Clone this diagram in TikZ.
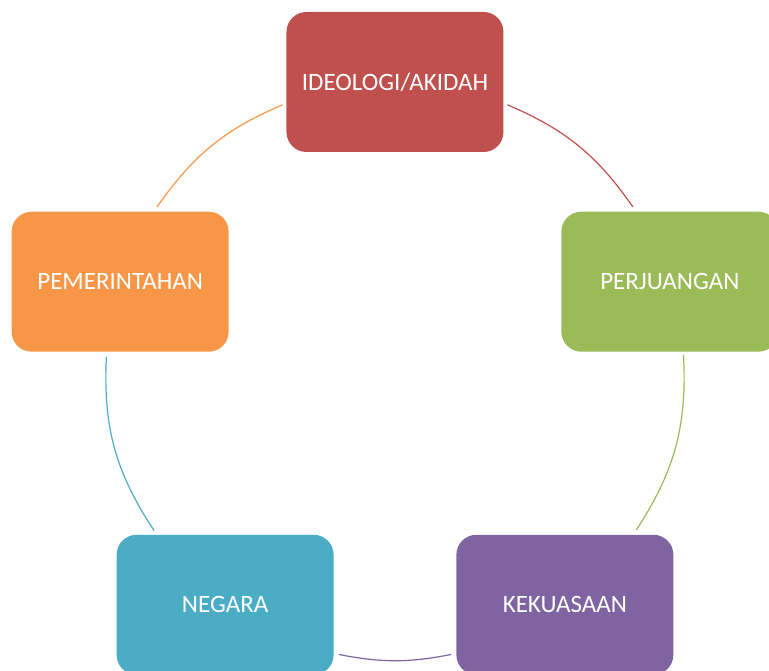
\documentclass[tikz,border=0pt]{standalone}
\usepackage{fontspec}
\setmainfont{Carlito}
\usetikzlibrary{positioning}
\definecolor{cycRed}{HTML}{C0504D}
\definecolor{cycGreen}{HTML}{9BBB59}
\definecolor{cycPurple}{HTML}{8064A2}
\definecolor{cycBlue}{HTML}{4BACC6}
\definecolor{cycOrange}{HTML}{F79646}
\tikzset{
  linkR/.style={cycRed, line width=1.2pt},
  linkG/.style={cycGreen, line width=1.2pt},
  linkP/.style={cycPurple, line width=1.2pt},
  linkB/.style={cycBlue, line width=1.2pt},
  linkO/.style={cycOrange, line width=1.2pt},
  boxRed/.style={rectangle, rounded corners=20pt, fill=cycRed, text=white,
                 align=center, minimum width=217pt, minimum height=140pt},
  boxGreen/.style={rectangle, rounded corners=20pt, fill=cycGreen, text=white,
                   align=center, minimum width=217pt, minimum height=140pt},
  boxPurple/.style={rectangle, rounded corners=20pt, fill=cycPurple, text=white,
                    align=center, minimum width=217pt, minimum height=140pt},
  boxBlue/.style={rectangle, rounded corners=20pt, fill=cycBlue, text=white,
                  align=center, minimum width=217pt, minimum height=140pt},
  boxOrange/.style={rectangle, rounded corners=20pt, fill=cycOrange, text=white,
                    align=center, minimum width=217pt, minimum height=140pt},
}
\begin{document}
\begin{tikzpicture}[x=1pt, y=1pt, font=\fontsize{25}{30}\selectfont]
    \useasboundingbox (-395,-300) rectangle (374,371);
    \clip (-395,-300) rectangle (374,371);
    \node[boxRed]    (ideo) at (90:289)   {IDEOLOGI/AKIDAH};
    \node[boxGreen]  (perj) at (18:289)   {PERJUANGAN};
    \node[boxPurple] (kuasa) at (-54:289) {KEKUASAAN};
    \node[boxBlue]   (neg) at (-126:289)  {NEGARA};
    \node[boxOrange] (pem) at (162:289)   {PEMERINTAHAN};
    % ends of the arcs on the circle
    \coordinate (r1) at (67.1:289);   \coordinate (r2) at (34.6:289);
    \coordinate (g1) at (3.2:289);    \coordinate (g2) at (-33.4:289);
    \coordinate (p1) at (-78.8:289);  \coordinate (p2) at (-101.2:289);
    \coordinate (b1) at (-146.5:289); \coordinate (b2) at (177.2:289);
    \coordinate (o1) at (145.4:289);  \coordinate (o2) at (112.9:289);
    \draw[linkR] (r1) to[bend left=16] (r2);
    \draw[linkG] (g1) to[bend left=18] (g2);
    \draw[linkP] (p1) to[bend left=11] (p2);
    \draw[linkB] (b1) to[bend left=18] (b2);
    \draw[linkO] (o1) to[bend left=16] (o2);
  \end{tikzpicture}
\end{document}
